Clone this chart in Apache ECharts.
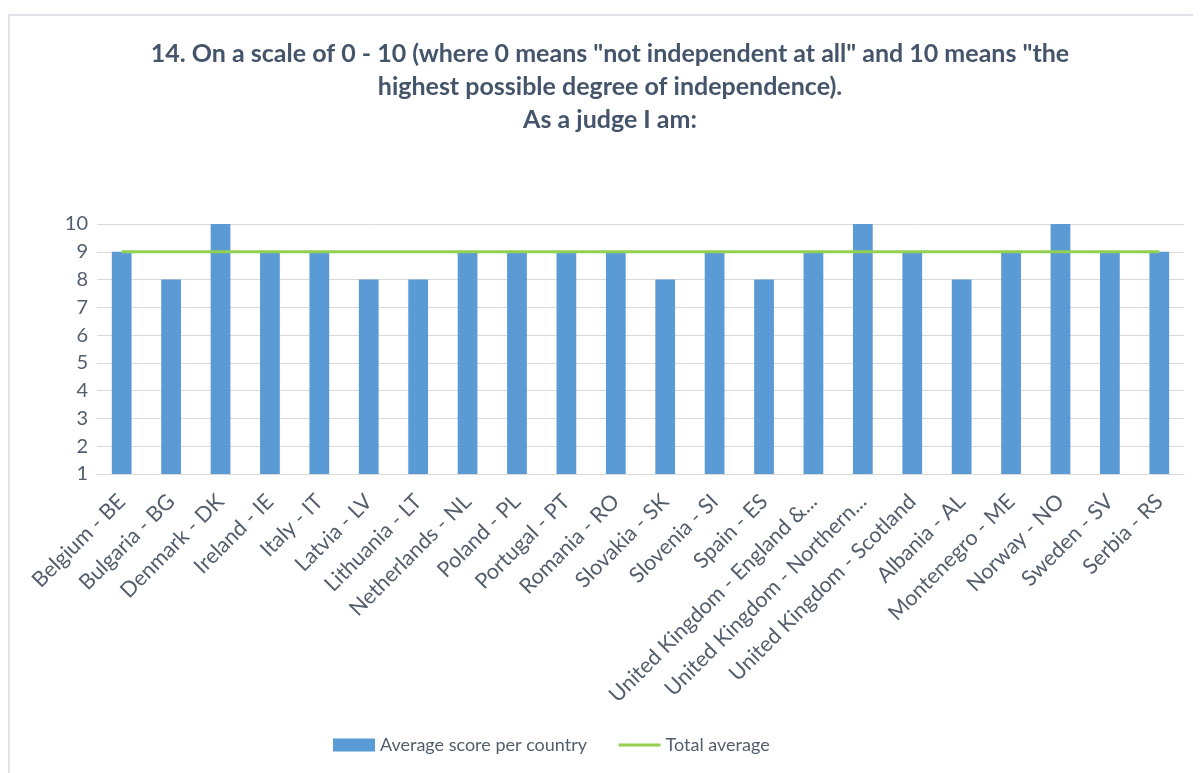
<!DOCTYPE html>
<html>
<head>
<meta charset="utf-8">
<script src="https://cdn.jsdelivr.net/npm/echarts@6/dist/echarts.min.js"></script>
<style>
html,body{margin:0;padding:0;background:#fff;}
#chart{width:1203px;height:773px;}
</style>
</head>
<body>
<div id="chart"></div>
<script>
const categories = [
  "Belgium - BE", "Bulgaria - BG", "Denmark - DK", "Ireland - IE", "Italy - IT",
  "Latvia - LV", "Lithuania - LT", "Netherlands - NL", "Poland - PL", "Portugal - PT",
  "Romania - RO", "Slovakia - SK", "Slovenia - SI", "Spain - ES",
  "United Kingdom - England &...", "United Kingdom - Northern...", "United Kingdom - Scotland",
  "Albania - AL", "Montenegro - ME", "Norway - NO", "Sweden - SV", "Serbia - RS"
];
const countryScores = [9, 8, 10, 9, 9, 8, 8, 9, 9, 9, 9, 8, 9, 8, 9, 10, 9, 8, 9, 10, 9, 9];
const totalAverage = [9, 9, 9, 9, 9, 9, 9, 9, 9, 9, 9, 9, 9, 9, 9, 9, 9, 9, 9, 9, 9, 9];
const yTicks = [1, 10, 1]; // min, max, interval
const titleText = '14. On a scale of 0 - 10 (where 0 means "not independent at all" and 10 means "the\nhighest possible degree of independence).\nAs a judge I am:';

const FONT = 'Lato, "Open Sans", sans-serif';
const TEXT = '#535d6c';
const chart = echarts.init(document.getElementById('chart'), null, {renderer: 'canvas'});
chart.setOption({
  animation: false,
  backgroundColor: '#ffffff',
  graphic: [{
    type: 'polyline',
    shape: {points: [[9, 773], [9, 15], [1193, 15]]},
    style: {stroke: '#dfe2e8', lineWidth: 2, fill: null},
    silent: true
  }],
  title: {
    text: titleText,
    left: 605,
    top: 32,
    textAlign: 'center',
    textStyle: {
      fontFamily: FONT, fontWeight: 'bold', fontSize: 25,
      color: '#44546a', lineHeight: 33, align: 'center'
    }
  },
  legend: {
    bottom: 14,
    left: 328,
    itemWidth: 42,
    itemHeight: 13,
    itemGap: 30,
    textStyle: {fontFamily: FONT, fontSize: 18, color: TEXT},
    data: [
      {name: 'Average score per country', icon: 'rect'},
      {name: 'Total average', itemStyle: {opacity: 0}, lineStyle: {width: 3}}
    ]
  },
  grid: {left: 97, right: 19, top: 224, bottom: 299, containLabel: false},
  xAxis: {
    type: 'category',
    data: categories,
    axisTick: {show: false},
    axisLine: {lineStyle: {color: '#d9d9d9', width: 1}},
    axisLabel: {
      rotate: 45, interval: 0, margin: 24,
      fontFamily: FONT, fontSize: 21.5, color: TEXT
    }
  },
  yAxis: {
    type: 'value',
    min: yTicks[0], max: yTicks[1], interval: yTicks[2],
    axisLine: {show: false},
    axisTick: {show: false},
    splitLine: {lineStyle: {color: '#d9d9d9', width: 1}},
    axisLabel: {fontFamily: FONT, fontSize: 20, color: TEXT, margin: 9}
  },
  series: [
    {
      name: 'Average score per country',
      type: 'bar',
      data: countryScores,
      barWidth: '40%',
      itemStyle: {color: '#5b9bd5'}
    },
    {
      name: 'Total average',
      type: 'line',
      data: totalAverage,
      symbol: 'none',
      lineStyle: {color: '#92d050', width: 3},
      itemStyle: {color: '#92d050'}
    }
  ]
});
</script>
</body>
</html>
